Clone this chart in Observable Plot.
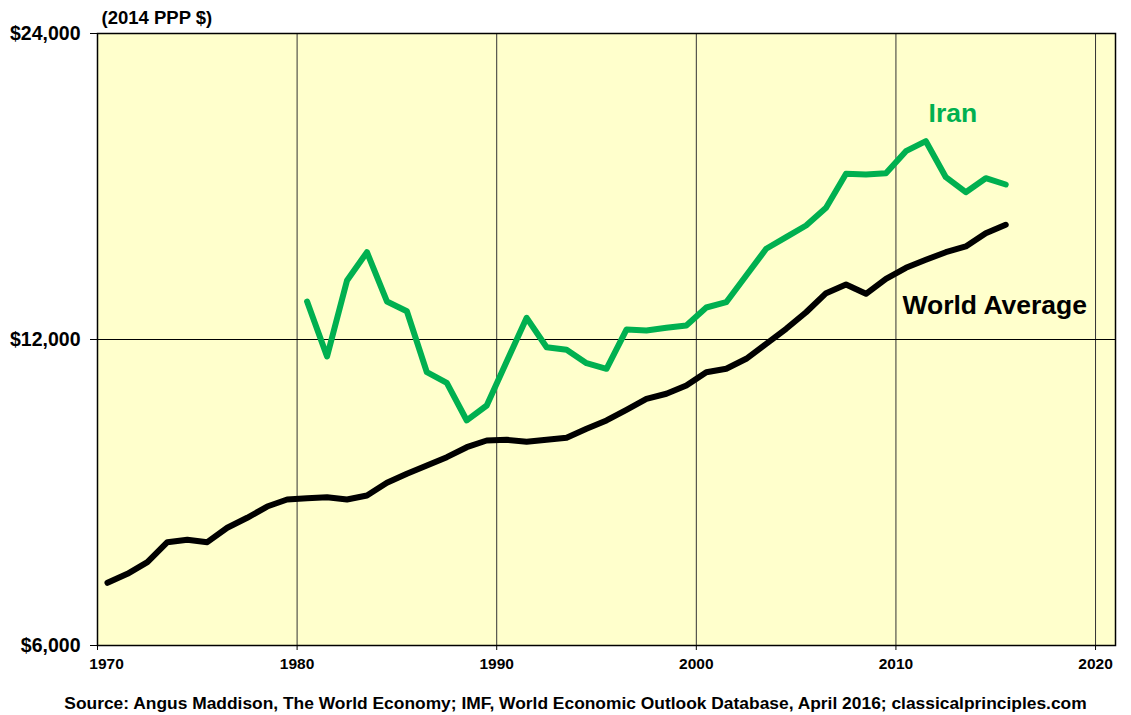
<!DOCTYPE html>
<html>
<head>
<meta charset="utf-8">
<script src="https://cdn.jsdelivr.net/npm/d3@7"></script>
<script src="https://cdn.jsdelivr.net/npm/@observablehq/plot@0.6"></script>
<style>
  body { margin: 0; background: #fff; font-family: "Liberation Sans", Arial, sans-serif; }
  #chart { width: 1131px; }
  #caption { width: 1111px; padding-left: 20px; text-align: center; font-weight: bold; font-size: 17.4px; line-height: 20px; color: #000; margin-top: 8px; white-space: nowrap; }
</style>
</head>
<body>
<div id="chart"></div>
<div id="caption">Source: Angus Maddison, The World Economy; IMF, World Economic Outlook Database, April 2016; classicalprinciples.com</div>
<script>
const worldYears = d3.range(1970, 2016);
const worldValues = [6916, 7058, 7246, 7582, 7624, 7582, 7834, 8013, 8220, 8351,
  8376, 8395, 8351, 8427, 8674, 8852, 9020, 9192, 9402, 9546,
  9561, 9518, 9561, 9605, 9803, 9989, 10234, 10492, 10612, 10813,
  11143, 11230, 11487, 11884, 12294, 12765, 13327, 13592, 13309, 13769,
  14116, 14375, 14624, 14815, 15269, 15561];
const iranYears = d3.range(1980, 2016);
const iranValues = [13079, 11547, 13716, 14624, 13079, 12794, 11143, 10879, 9989, 10334,
  11417, 12604, 11792, 11723, 11373, 11230, 12274, 12247, 12322, 12386,
  12902, 13058, 13873, 14738, 15131, 15536, 16173, 17467, 17439, 17491,
  18385, 18805, 17333, 16752, 17293, 17048];
const xTicks = [1970, 1980, 1990, 2000, 2010, 2020];
const yTicks = [6000, 12000, 24000];
const gridYears = [1980, 1990, 2000, 2010, 2020];
const gridValues = [12000];
const seriesLabels = [
  {name: "Iran", year: 2012.85, value: 20000, color: "#00B050"},
  {name: "World Average", year: 2014.95, value: 12966, color: "#000000"}
];

const world = worldYears.map((y, i) => ({x: y + 0.5, v: worldValues[i]}));
const iran = iranYears.map((y, i) => ({x: y + 0.5, v: iranValues[i]}));
const xAxisOpts = {tickFormat: d => String(d), fontWeight: "bold", fontSize: 15.5, tickSize: 5, tickPadding: 7, label: null};

const plot = Plot.plot({
  width: 1131,
  height: 685,
  marginLeft: 97,
  marginRight: 16,
  marginTop: 33,
  marginBottom: 40,
  style: {fontFamily: "'Liberation Sans', Arial, sans-serif", background: "transparent", overflow: "visible"},
  x: {domain: [1970, 2021], label: null},
  y: {type: "log", domain: [6000, 24000], label: null},
  marks: [
    Plot.frame({fill: "#FFFFCC", stroke: null}),
    Plot.ruleX(gridYears, {stroke: "#333", strokeWidth: 1}),
    Plot.ruleY(gridValues, {stroke: "#000", strokeWidth: 1}),
    Plot.frame({stroke: "#000", strokeWidth: 1.5}),
    Plot.axisX({...xAxisOpts, ticks: xTicks.slice(1)}),
    Plot.axisX({...xAxisOpts, ticks: xTicks.slice(0, 1), text: null}),
    Plot.axisX({...xAxisOpts, ticks: xTicks.slice(0, 1), tickSize: 0, tickPadding: 12, dx: 9}),
    Plot.axisY({ticks: yTicks, tickFormat: d => "$" + d3.format(",")(d), fontWeight: "bold", fontSize: 19.5, tickSize: 7, tickPadding: 10, label: null}),
    Plot.line(world, {x: "x", y: "v", stroke: "#000", strokeWidth: 6, strokeLinejoin: "round", strokeLinecap: "round"}),
    Plot.line(iran, {x: "x", y: "v", stroke: "#00B050", strokeWidth: 6, strokeLinejoin: "round", strokeLinecap: "round"}),
    Plot.text(seriesLabels, {x: "year", y: "value", text: "name", fill: "color", fontSize: 26.5, fontWeight: "bold"}),
    Plot.text(["(2014 PPP $)"], {frameAnchor: "top-left", dx: 4, dy: -23, fontSize: 18.5, fontWeight: "bold", fill: "#000", textAnchor: "start"})
  ]
});
document.getElementById("chart").appendChild(plot);
</script>
</body>
</html>
